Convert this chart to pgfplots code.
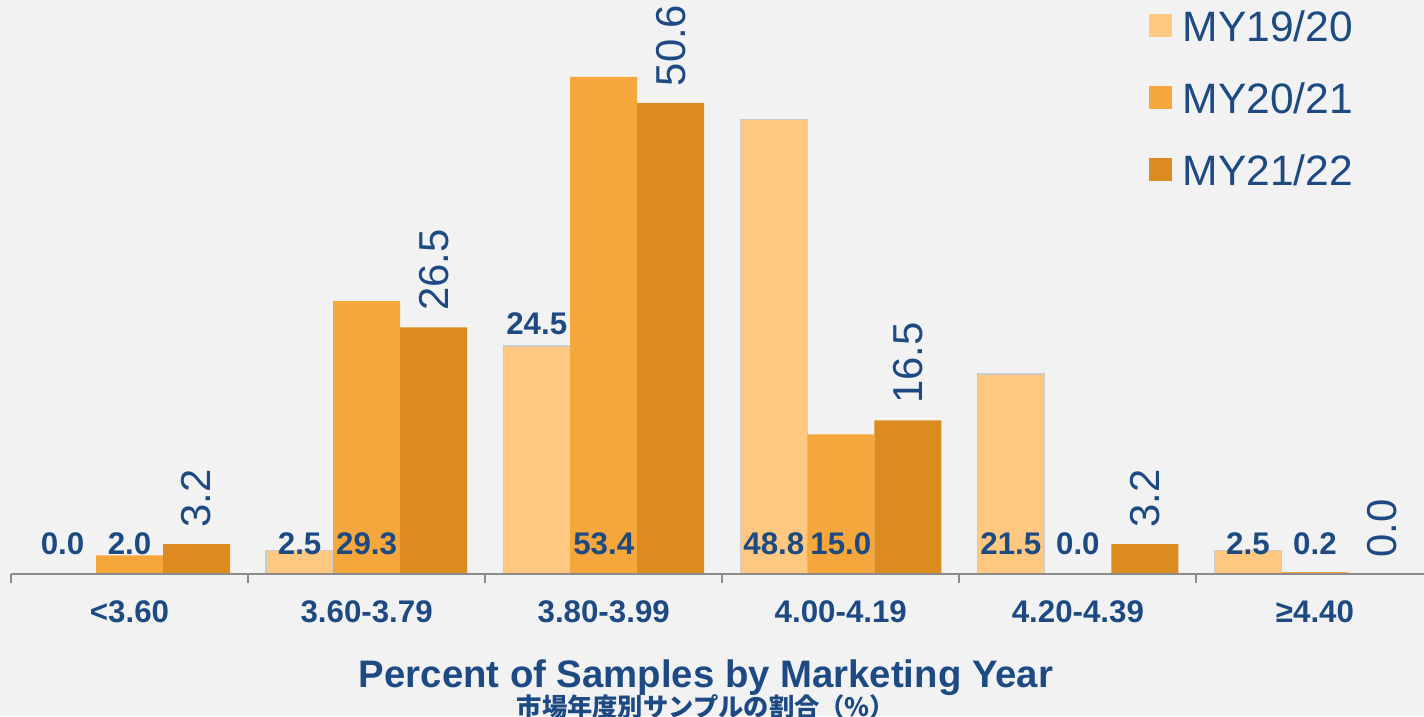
\documentclass[border=0pt]{standalone}
\usepackage{fontspec}
\setmainfont{Liberation Sans}
\newfontfamily\cjk{Noto Sans CJK JP}
\usepackage{pgfplots}
\pgfplotsset{compat=1.18}
\definecolor{bg}{HTML}{F2F2F2}
\definecolor{lite}{HTML}{FFC880}
\definecolor{mid}{HTML}{F6A73B}
\definecolor{dark}{HTML}{DC8C1E}
\definecolor{ink}{HTML}{1D4A82}
\definecolor{axgray}{HTML}{8C8C8C}

\begin{document}
\begin{tikzpicture}
\fill[bg] (0,0) rectangle (14.24cm,7.16cm);
\path[use as bounding box] (0,0) rectangle (14.24cm,7.16cm);
\begin{axis}[
  at={(0.11cm,1.42cm)}, anchor=south west,
  scale only axis, width=14.13cm, height=5.307cm,
  xmin=-0.5, xmax=5.46, ymin=0, ymax=57,
  clip=false,
  ybar=0pt, bar width=0.67cm,
  axis x line*=bottom, axis y line=none,
  axis on top,
  x axis line style={draw=axgray, line width=0.6pt},
  xtick={0,1,2,3,4,5},
  xticklabels={<3.60, 3.60-3.79, 3.80-3.99, 4.00-4.19, 4.20-4.39, ≥4.40},
  major tick length=0pt,
  xticklabel style={font=\fontsize{8.9}{10}\selectfont\bfseries, text=ink, anchor=base, yshift=-0.48cm},
  extra x ticks={-0.5,0.5,1.5,2.5,3.5,4.5},
  extra x tick labels={},
  extra x tick style={major tick length=0.09cm, xtick align=outside, major tick style={draw=axgray, line width=0.6pt}},
  /pgf/number format/assume math mode=true,
]
\addplot[fill=lite, draw=black!20, line width=0.4pt]
  coordinates {(0,0.0) (1,2.5) (2,24.5) (3,48.8) (4,21.5) (5,2.5)};
\addplot[fill=mid, draw=none]
  coordinates {(0,2.0) (1,29.3) (2,53.4) (3,15.0) (4,0.0) (5,0.2)};
\addplot[fill=dark, draw=none,
  nodes near coords={\pgfmathprintnumber[fixed,fixed zerofill,precision=1]{\pgfplotspointmeta}},
  every node near coord/.append style={rotate=90, anchor=west, inner sep=0pt, inner xsep=0.16cm,
    font=\fontsize{11.9}{13}\selectfont, text=ink}]
  coordinates {(0,3.2) (1,26.5) (2,50.6) (3,16.5) (4,3.2) (5,0.0)};

% labels of the first two series
\tikzset{lbl/.style={font=\fontsize{8.9}{10}\selectfont\bfseries, text=ink, inner sep=0pt, anchor=center}}
\node[lbl] at ([xshift=-0.67cm]axis cs:0,3.22) {0.0};
\node[lbl] at ([xshift=-0.67cm]axis cs:1,3.22) {2.5};
\node[lbl] at ([xshift=-0.67cm]axis cs:2,26.85) {24.5};
\node[lbl] at ([xshift=-0.67cm]axis cs:3,3.22) {48.8};
\node[lbl] at ([xshift=-0.67cm]axis cs:4,3.22) {21.5};
\node[lbl] at ([xshift=-0.67cm]axis cs:5,3.22) {2.5};
\node[lbl] at (axis cs:0,3.22) {2.0};
\node[lbl] at (axis cs:1,3.22) {29.3};
\node[lbl] at (axis cs:2,3.22) {53.4};
\node[lbl] at (axis cs:3,3.22) {15.0};
\node[lbl] at (axis cs:4,3.22) {0.0};
\node[lbl] at (axis cs:5,3.22) {0.2};
\end{axis}
% legend
\tikzset{leg/.style={anchor=base west, inner sep=0pt, text=ink, font=\fontsize{12.1}{14}\selectfont}}
\node[leg] at (11.48cm,6.74cm) {\textcolor{lite}{\rule[0.045cm]{0.23cm}{0.23cm}}\hspace{0.11cm}MY19/20};
\node[leg] at (11.48cm,6.02cm) {\textcolor{mid}{\rule[0.045cm]{0.23cm}{0.23cm}}\hspace{0.11cm}MY20/21};
\node[leg] at (11.48cm,5.30cm) {\textcolor{dark}{\rule[0.045cm]{0.23cm}{0.23cm}}\hspace{0.11cm}MY21/22};
% titles
\node[anchor=base, text=ink, font=\fontsize{10.9}{12}\selectfont\bfseries, inner sep=0pt] at (7.06cm,0.29cm)
  {Percent of Samples by Marketing Year};
\node[anchor=base, text=ink, font=\fontsize{7.2}{8}\selectfont\cjk\bfseries, inner sep=0pt] at (7.06cm,0.0cm)
  {市場年度別サンプルの割合（\%）};
\end{tikzpicture}
\end{document}
